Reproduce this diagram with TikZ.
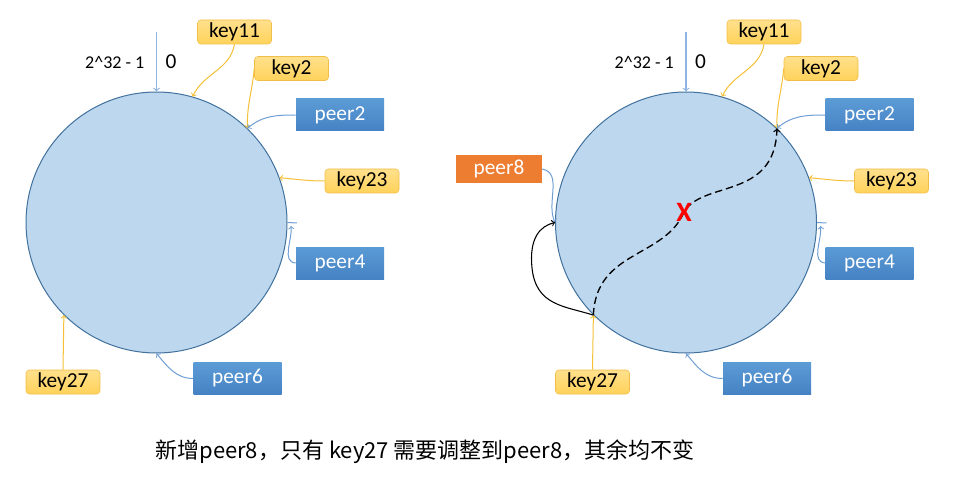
\documentclass[tikz,border=0pt]{standalone}
\usepackage{fontspec}
\setmainfont{Carlito}
\newfontfamily\cjk{Noto Sans CJK SC}
\usepackage{tikz}
\usetikzlibrary{arrows}

\definecolor{ringfill}{HTML}{BDD7EE}
\definecolor{ringline}{HTML}{41719C}
\definecolor{keytop}{HTML}{FFE08C}
\definecolor{keybot}{HTML}{FFD25A}
\definecolor{keyline}{HTML}{F2BE4A}
\definecolor{keywire}{HTML}{F5C037}
\definecolor{peertop}{HTML}{5B9BD5}
\definecolor{peerbot}{HTML}{4582C4}
\definecolor{peerwire}{HTML}{6F9ED4}
\definecolor{zerowire}{HTML}{8EB4E3}
\definecolor{neworange}{HTML}{ED7D31}

\begin{document}
\begin{tikzpicture}
		[x=0.75pt,y=-0.75pt,>=to,
		every node/.style={font=\fontsize{16}{18}\selectfont},
		ring/.style={circle,draw=ringline,line width=0.75pt,fill=ringfill,minimum size=195.75pt,inner sep=0pt},
		keybox/.style={draw=keyline,top color=keytop,bottom color=keybot,rounded corners=2.5pt,minimum width=55.5pt,minimum height=18pt,inner sep=0pt},
		peerbox/.style={top color=peertop,bottom color=peerbot,text=white,minimum width=66pt,minimum height=24pt,inner sep=0pt},
		newpeer/.style={fill=neworange,text=white,minimum width=64pt,minimum height=21pt,inner sep=0pt},
		keyedge/.style={->,draw=keywire,line width=0.75pt},
		peeredge/.style={->,draw=peerwire,line width=0.75pt},
		zeroedge/.style={->,draw=zerowire,line width=0.9pt},
		moveedge/.style={->,black,line width=0.8pt}]
		\useasboundingbox (0,0) rectangle (953,481);

		% the same ring twice, the right one shifted
		\foreach \s/\dx in {L/0,R/529.5}{
		\begin{scope}[shift={(\dx,0)}]
		\node[ring] (ring\s) at (156.5,222.5) {};
		\coordinate (top\s) at (156.5,32);
		\node[anchor=east,font=\fontsize{13.5}{16}\selectfont] (max\s) at (149,62) {2\textasciicircum32 - 1};
		\node (zero\s) at (171,62) {0};
		\node[keybox] (key11\s) at (234.5,32) {key11};
		\node[keybox] (key2\s) at (291.5,68.5) {key2};
		\node[peerbox] (peer2\s) at (340,115) {peer2};
		\node[keybox] (key23\s) at (362,181) {key23};
		\node[peerbox] (peer4\s) at (340,263) {peer4};
		\node[peerbox] (peer6\s) at (237.5,378.5) {peer6};
		\node[keybox] (key27\s) at (63,382) {key27};
		\coordinate (hit4\s) at (291,226);
		\coordinate (tick\s) at (297,223);

		\draw[zeroedge] (top\s) -- (ring\s.north);
		\draw[keyedge] (key11\s.south) to[out=-100,in=65] (ring\s.74);
		\draw[keyedge] (key2\s.west) to[out=-95,in=92] (ring\s.46);
		\draw[peeredge] (peer2\s.west) to[out=180,in=40] (ring\s.46);
		\draw[keyedge] (key23\s.west) to[out=180,in=-5] (ring\s.20);
		\draw[peeredge] (peer4\s.west) to[out=175,in=-85] (hit4\s);
		\draw[draw=peerwire,line width=0.75pt] (ring\s.east) -- (tick\s);
		\draw[peeredge] (peer6\s.west) to[out=180,in=-50] (ring\s.south);
		\draw[keyedge] (key27\s.north) -- (ring\s.225);
		\end{scope}
		}

		% new peer on the right ring
		\node[newpeer] (peer8) at (499,169) {peer8};
		\draw[peeredge] (peer8.east) to[out=-10,in=115] (ringR.west);
		\draw[moveedge] (ringR.225) .. controls (565,306) and (536,306) .. (532,268) .. controls (529,238) and (540,226) .. (ringR.west);
		\coordinate (cross) at (684,212);
		\draw[moveedge,dash pattern=on 5.5pt off 3pt,line width=1pt] (ringR.225) .. controls (596,250) and (665,258) .. (cross) .. controls (703,180) and (775,200) .. (ringR.46);
		\node[text=red,font=\bfseries\fontsize{21}{24}\selectfont] (xmark) at (cross) {X};

		\node[font=\cjk\fontsize{16.5}{20}\selectfont] (caption) at (425,452) {新增peer8，只有 key27 需要调整到peer8，其余均不变};
		\end{tikzpicture}
\end{document}
